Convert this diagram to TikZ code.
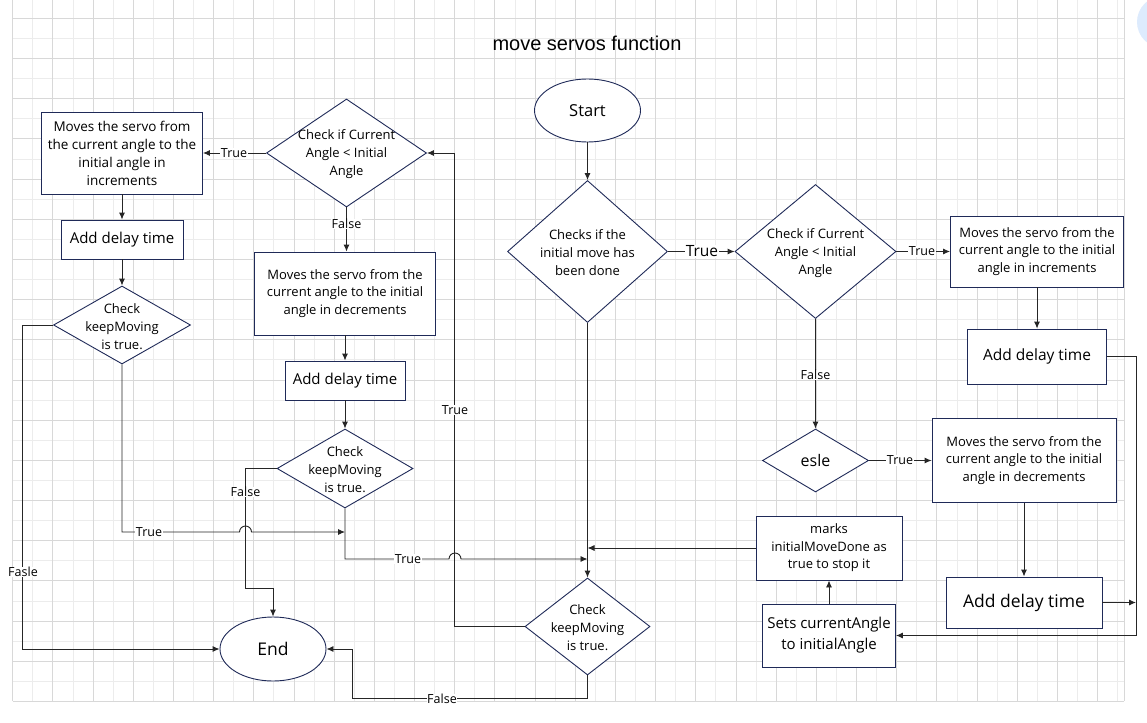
\documentclass[tikz,border=0pt]{standalone}
\usepackage{fontspec}
\setmainfont{Open Sans}
\newfontfamily\titlefont{Liberation Sans}
\usepackage{xcolor}
\usetikzlibrary{shapes,arrows.meta}
\definecolor{navy}{RGB}{31,42,88}
\definecolor{gridminor}{RGB}{236,236,236}
\definecolor{gridmajor}{RGB}{216,216,216}
\definecolor{bubble}{RGB}{221,235,253}

\begin{document}
\begin{tikzpicture}[x=1pt, y=-1pt, >={Latex[length=7pt,width=6pt]},
  line/.style={draw=black!85, line width=0.9pt},
  box/.style={draw=navy, line width=0.9pt, fill=white, align=center, inner sep=0pt, font=\fontsize{13}{17.5}\selectfont},
  dec/.style={diamond, draw=navy, line width=0.9pt, fill=white, inner sep=0pt},
  term/.style={ellipse, draw=navy, line width=0.9pt, fill=white, inner sep=0pt},
  txt/.style={align=center, font=\fontsize{13}{18}\selectfont, yshift=-1.5pt},
  lbl/.style={fill=white, inner sep=0.6pt, font=\fontsize{12.5}{14}\selectfont}]
  \fill [white] (0,0) rectangle (1147,722);
  \useasboundingbox (0,0) rectangle (1147,722);
  \foreach \i [evaluate=\i as \gx using {12.7+20.09*\i}] in {1,3,...,55}
    \draw [gridminor, line width=0.8pt] (\gx,0) -- (\gx,701.4);
  \foreach \j [evaluate=\j as \gy using {18.3+20.09*\j}] in {1,3,...,33}
    \draw [gridminor, line width=0.8pt] (12.7,\gy) -- (1124.3,\gy);
  \foreach \i [evaluate=\i as \gx using {12.7+20.09*\i}] in {0,2,...,54}
    \draw [gridmajor, line width=0.8pt] (\gx,0) -- (\gx,701.4);
  \foreach \j [evaluate=\j as \gy using {18.3+20.09*\j}] in {0,2,...,34}
    \draw [gridmajor, line width=0.8pt] (12.7,\gy) -- (1124.3,\gy);
  \draw [gridmajor, line width=0.8pt] (1124.3,0) -- (1124.3,701.4);
  \fill [bubble] (1163,22) circle (26pt);

  \node [font=\titlefont\fontsize{20}{24}\selectfont] (title) at (587,43) {move servos function};

  \node [term, minimum width=106, minimum height=63, font=\fontsize{16.5}{20}\selectfont] (start) at (587.5,110.5) {Start};
  \node [dec, minimum width=160, minimum height=142] (chk) at (587.5,251.5) {};
  \node [txt] (chktxt) at (chk) {Checks if the\\initial move has\\been done};
  \node [dec, minimum width=161, minimum height=134] (cmpR) at (815.5,251.5) {};
  \node [txt] (cmpRtxt) at (cmpR) {Check if Current\\Angle < Initial\\Angle};
  \node [box, minimum width=173, minimum height=71] (incR) at (1037,251.5) {Moves the servo from the\\current angle to the initial\\angle in increments};
  \node [box, minimum width=139, minimum height=55, font=\fontsize{15.5}{18}\selectfont] (delR1) at (1037,356.5) {Add delay time};
  \node [dec, minimum width=106, minimum height=63, font=\fontsize{16}{18}\selectfont] (esle) at (815.5,460.5) {esle};
  \node [box, minimum width=184, minimum height=84] (decR) at (1024,460.5) {Moves the servo from the\\current angle to the initial\\angle in decrements};
  \node [box, minimum width=156, minimum height=51, font=\fontsize{17.5}{20}\selectfont] (delR2) at (1024,602.5) {Add delay time};
  \node [box, minimum width=133, minimum height=63, font=\fontsize{15}{21}\selectfont] (setA) at (829,635.5) {Sets currentAngle\\to initialAngle};
  \node [box, minimum width=146, minimum height=64] (mark) at (829,548) {marks\\initialMoveDone as\\true to stop it};
  \node [dec, minimum width=125, minimum height=97] (keepB) at (587.5,626.5) {};
  \node [txt] (keepBtxt) at (keepB) {Check\\keepMoving\\is true.};
  \node [term, minimum width=106, minimum height=64, font=\fontsize{17.5}{20}\selectfont] (end) at (273,649) {End};

  \node [dec, minimum width=160, minimum height=108] (cmpL) at (346.5,153) {};
  \node [txt] (cmpLtxt) at (cmpL) {Check if Current\\Angle < Initial\\Angle};
  \node [box, minimum width=161, minimum height=82, font=\fontsize{13.5}{18}\selectfont] (incL) at (122,153) {Moves the servo from\\the current angle to the\\initial angle in\\increments};
  \node [box, minimum width=122, minimum height=39, font=\fontsize{15}{18}\selectfont] (delL1) at (122,239.5) {Add delay time};
  \node [dec, minimum width=137, minimum height=78] (keepL) at (122,325) {};
  \node [txt] (keepLtxt) at (keepL) {Check\\keepMoving\\is true.};
  \node [box, minimum width=181, minimum height=83] (decL) at (345,293.5) {Moves the servo from the\\current angle to the initial\\angle in decrements};
  \node [box, minimum width=120, minimum height=39, font=\fontsize{15}{18}\selectfont] (delL2) at (345,380.5) {Add delay time};
  \node [dec, minimum width=136, minimum height=79] (keepM) at (345,468.5) {};
  \node [txt] (keepMtxt) at (keepM) {Check\\keepMoving\\is true.};

  \coordinate (rTop) at (1136,356.5);
  \coordinate (mJoin) at (345,532);
  \coordinate (bJoin) at (587.5,559);
  \coordinate (bLow) at (352.6,698);

  \draw [line, ->] (start.south) -- (chk.north);
  \draw [line, ->] (chk.east) -- (cmpR.west);
  \draw [line, ->] (cmpR.east) -- (incR.west);
  \draw [line, ->] (incR.south) -- (delR1.north);
  \draw [line, ->] (cmpR.south) -- (esle.north);
  \draw [line, ->] (esle.east) -- (decR.west);
  \draw [line, ->] (decR.south) -- (delR2.north);
  \draw [line, ->] (delR1.east) -- (rTop) |- (setA.east);
  \draw [line, ->] (delR2.east) -- (delR2.east -| rTop);
  \draw [line, ->] (setA.north) -- (mark.south);
  \draw [line, ->] (mark.west) -- (mark.west -| chk.south);
  \draw [line, ->] (chk.south) -- (keepB.north);
  \draw [line, ->] (keepB.west) -- ++(-70,0) |- (cmpL.east);
  \draw [line, ->] (keepB.south) |- (bLow) |- (end.east);
  \draw [line, ->] (cmpL.west) -- (incL.east);
  \draw [line, ->] (cmpL.south) -- (cmpL.south |- decL.north);
  \draw [line, ->] (incL.south) -- (delL1.north);
  \draw [line, ->] (delL1.south) -- (keepL.north);
  \draw [line, ->] (keepL.west) -- ++(-31,0) |- (end.west);
  \draw [line, ->] (keepL.south) |- (239.5,532) arc [start angle=180, end angle=0, radius=6pt] -- (mJoin);
  \draw [line, ->] (decL.south) -- (delL2.north);
  \draw [line, ->] (delL2.south) -- (keepM.north);
  \draw [line, ->] (keepM.west) -| (245.5,588) -| (end.north);
  \draw [line, ->] (keepM.south) |- (449,559) arc [start angle=180, end angle=0, radius=6pt] -- (bJoin);

  \node [lbl, font=\fontsize{15.5}{18}\selectfont] (tChk) at (702,251.5) {True};
  \node [lbl] (tCmpR) at (922,251.5) {True};
  \node [lbl] (fCmpR) at (815.5,375) {False};
  \node [lbl] (tEsle) at (900,460.5) {True};
  \node [lbl] (tKeepB) at (455,410) {True};
  \node [lbl] (fKeepB) at (442,699) {False};
  \node [lbl] (tCmpL) at (234,153) {True};
  \node [lbl] (fCmpL) at (346.5,224) {False};
  \node [lbl] (fKeepL) at (23,572) {Fasle};
  \node [lbl] (tKeepL) at (149,532) {True};
  \node [lbl] (fKeepM) at (245.5,492) {False};
  \node [lbl] (tKeepM) at (408,559) {True};
\end{tikzpicture}
\end{document}
